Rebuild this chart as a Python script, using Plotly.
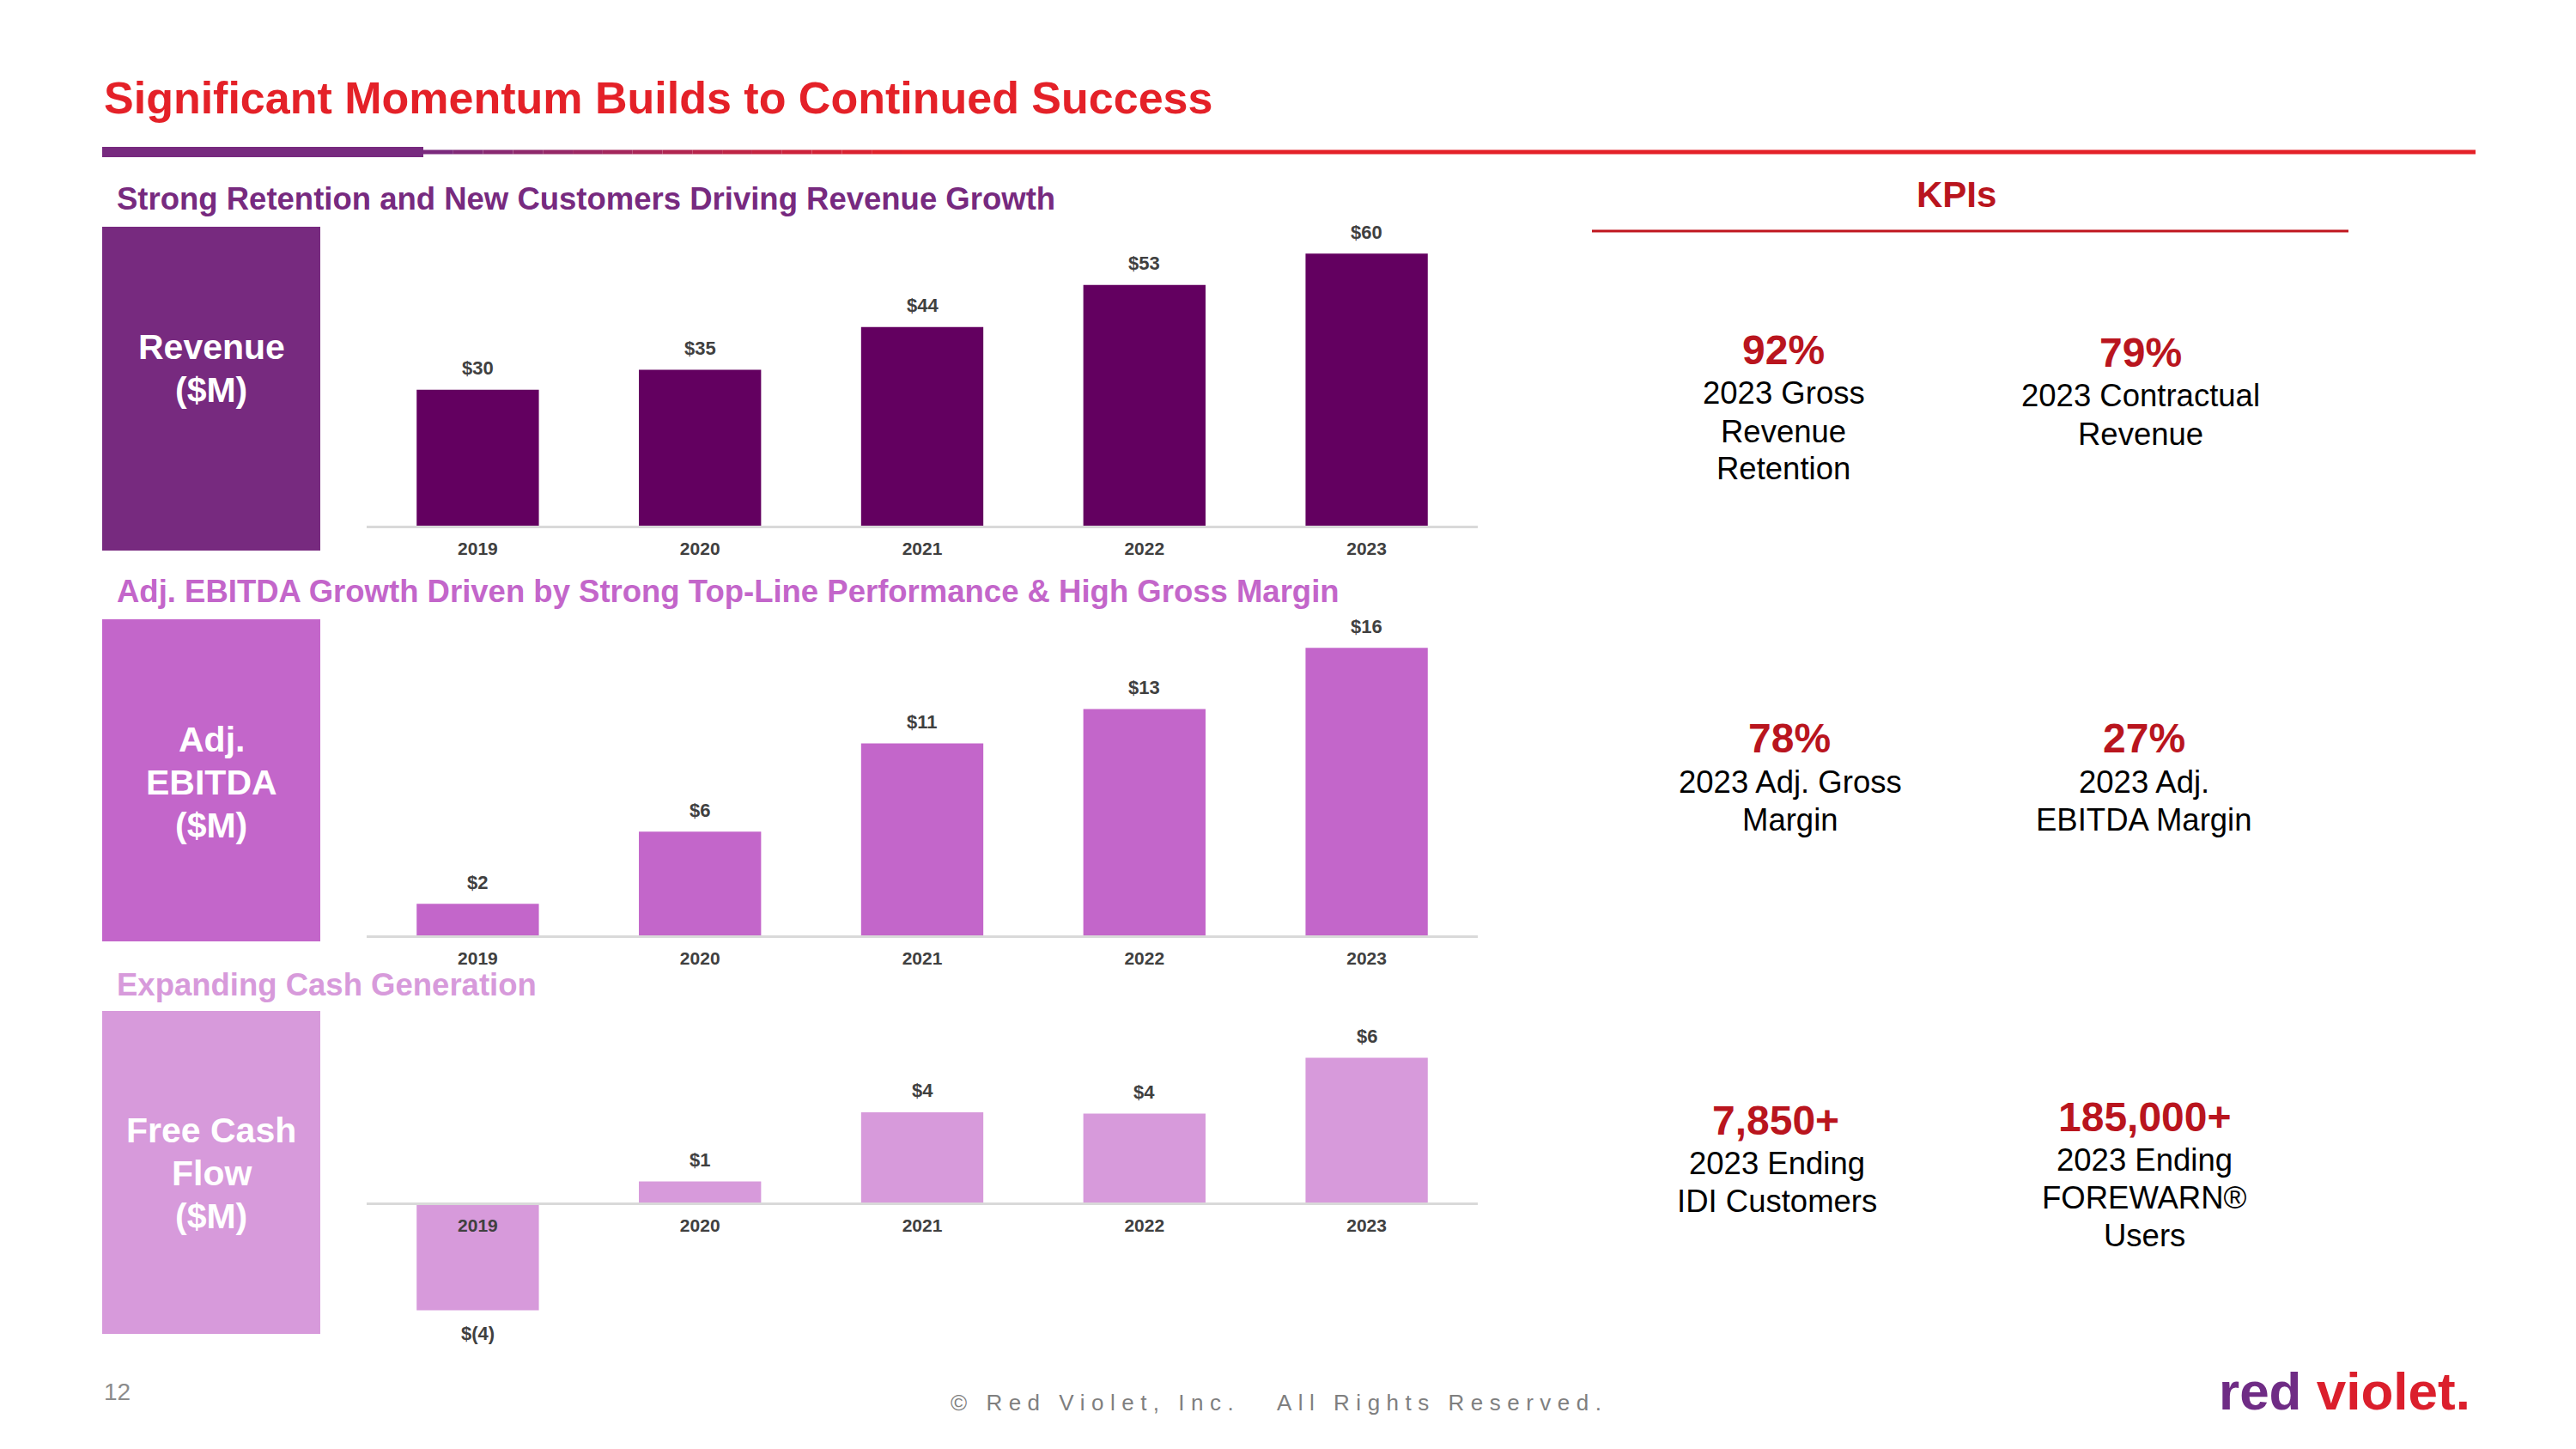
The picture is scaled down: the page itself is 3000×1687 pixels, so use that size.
"""Slide 12: Revenue / Adj. EBITDA / Free Cash Flow bars plus KPI block."""

import plotly.graph_objects as go

W, H = 3000, 1687

# --- data ------------------------------------------------------------------
years = ["2019", "2020", "2021", "2022", "2023"]
revenue = [30.2, 34.6, 44.0, 53.3, 60.2]
adj_ebitda = [1.8, 5.8, 10.7, 12.6, 16.0]
free_cash_flow = [-4.4, 0.9, 3.75, 3.7, 6.0]

kpi_values = ["92%", "79%", "78%", "27%", "7,850+", "185,000+"]
kpi_labels = [
    ["2023 Gross", "Revenue", "Retention"],
    ["2023 Contractual", "Revenue"],
    ["2023 Adj. Gross", "Margin"],
    ["2023 Adj.", "EBITDA Margin"],
    ["2023 Ending", "IDI Customers"],
    ["2023 Ending", "FOREWARN®", "Users"],
]

# --- colours / fonts -------------------------------------------------------
RED = "#E42128"
DARK_RED = "#B9151E"
PURPLE_BOX = "#772A7F"
REV_BAR = "#630060"
EBITDA_COL = "#C366CA"
FCF_COL = "#D79ADB"
AXIS_GREY = "#D9D9D9"
LABEL_GREY = "#404040"
ARIAL = "Liberation Sans, Arial, sans-serif"
NARROW = "Liberation Sans Narrow, Arial Narrow, Liberation Sans, sans-serif"


def px(x):
    return x / W


def py(y):
    return 1 - y / H


X0, X1 = 427, 1721  # pixel extent of the three category axes

# base pixel row, px per $M, top / bottom pixel rows of each panel
panels = [
    dict(vals=revenue, color=REV_BAR, base=613, scale=5.277, top=262, bottom=613),
    dict(vals=adj_ebitda, color=EBITDA_COL, base=1090, scale=20.99, top=715, bottom=1090),
    dict(vals=free_cash_flow, color=FCF_COL, base=1401, scale=28.27, top=1195, bottom=1570),
]

fig = go.Figure()
annotations = []

for i, p in enumerate(panels, start=1):
    sfx = "" if i == 1 else str(i)
    fig.add_trace(go.Bar(
        x=years, y=p["vals"], marker_color=p["color"], marker_line_width=0,
        width=0.55, xaxis=f"x{sfx}", yaxis=f"y{sfx}", showlegend=False,
    ))
    lo = -(p["bottom"] - p["base"]) / p["scale"]
    hi = (p["base"] - p["top"]) / p["scale"]
    fig.update_layout(**{
        f"xaxis{sfx}": dict(
            domain=[px(X0), px(X1)], range=[-0.5, 4.5], type="category",
            anchor="free", position=py(p["base"]),
            showline=True, linecolor=AXIS_GREY, linewidth=3, showgrid=False,
            ticks="", ticklabelstandoff=6,
            tickfont=dict(family=NARROW, size=21, color=LABEL_GREY, weight="bold"),
        ),
        f"yaxis{sfx}": dict(
            domain=[py(p["bottom"]), py(p["top"])], range=[lo, hi],
            visible=False, showgrid=False, zeroline=False,
        ),
    })
    # data labels: category index on x (year strings would read as positions)
    for k, v in enumerate(p["vals"]):
        txt = f"${v:.0f}" if v >= 0 else f"$({abs(v):.0f})"
        annotations.append(dict(
            x=k, y=v, xref=f"x{sfx}", yref=f"y{sfx}", text=f"<b>{txt}</b>",
            showarrow=False, yshift=25 if v >= 0 else -27,
            font=dict(family=NARROW, size=22, color=LABEL_GREY),
        ))

shapes = []

# header rule: thick purple stub, then purple->red fade, then red
shapes.append(dict(type="line", xref="paper", yref="paper", x0=px(119), x1=px(493),
                   y0=py(177), y1=py(177), line=dict(color=PURPLE_BOX, width=12)))
steps = 16
c0, c1 = (0x77, 0x2A, 0x7F), (0xE4, 0x21, 0x28)
for k in range(steps):
    xa = 493 + (1050 - 493) * k / steps
    xb = 493 + (1050 - 493) * (k + 1) / steps
    t = (k + 0.5) / steps
    col = "rgb({},{},{})".format(*[int(a + (b - a) * t) for a, b in zip(c0, c1)])
    shapes.append(dict(type="line", xref="paper", yref="paper", x0=px(xa), x1=px(xb),
                       y0=py(177), y1=py(177), line=dict(color=col, width=5)))
shapes.append(dict(type="line", xref="paper", yref="paper", x0=px(1050), x1=px(2883),
                   y0=py(177), y1=py(177), line=dict(color=RED, width=5)))

# KPI underline
shapes.append(dict(type="line", xref="paper", yref="paper", x0=px(1854), x1=px(2735),
                   y0=py(269), y1=py(269), line=dict(color="#C0161E", width=3)))

# coloured side boxes
boxes = [(264, 641, PURPLE_BOX), (721, 1096, EBITDA_COL), (1177, 1553, FCF_COL)]
for y_top, y_bot, col in boxes:
    shapes.append(dict(type="rect", xref="paper", yref="paper", x0=px(119), x1=px(373),
                       y0=py(y_bot), y1=py(y_top), fillcolor=col, line_width=0, layer="below"))


def note(x, y, text, size, color, bold=False, xanchor="center", family=ARIAL):
    annotations.append(dict(
        x=px(x), y=py(y), xref="paper", yref="paper", showarrow=False,
        text=f"<b>{text}</b>" if bold else text, xanchor=xanchor, yanchor="middle",
        align="center", font=dict(family=family, size=size, color=color),
    ))


def stack(x, y_first, rows, gap, size, color, bold=False):
    for n, row in enumerate(rows):
        note(x, y_first + n * gap, row, size, color, bold)


note(119, 114, "Significant Momentum Builds to Continued Success", 52, RED, True, "left")
note(134, 232, "Strong Retention and New Customers Driving Revenue Growth", 36.5, PURPLE_BOX, True, "left")
note(134, 688, "Adj. EBITDA Growth Driven by Strong Top-Line Performance &amp; High Gross Margin",
     36.5, EBITDA_COL, True, "left")
note(134, 1146, "Expanding Cash Generation", 36.5, FCF_COL, True, "left")

stack(246, 404, ["Revenue", "($M)"], 50, 41, "white", True)
stack(246, 861, ["Adj.", "EBITDA", "($M)"], 50, 41, "white", True)
stack(246, 1316, ["Free Cash", "Flow", "($M)"], 50, 41, "white", True)

note(2278, 227, "KPIs", 42, DARK_RED, True)

kpi_num_pos = [(2077, 407), (2493, 410), (2084, 860), (2497, 860), (2068, 1304), (2498, 1300)]
kpi_lab_pos = [(2077, 458), (2493, 461), (2085, 910), (2497, 910), (2069, 1354), (2497, 1350)]
for val, rows, (nx, ny), (lx, ly) in zip(kpi_values, kpi_labels, kpi_num_pos, kpi_lab_pos):
    note(nx, ny, val, 48, DARK_RED, True)
    stack(lx, ly, rows, 44, 36.5, "black")

# footer
note(119, 1620, "12", 28, "#8C8C8C", False, "left")
note(1490, 1633,
     "<span style='letter-spacing:7.5px'>© Red Violet, Inc.\u00a0\u00a0 All Rights Reserved.</span>",
     26, "#7F7F7F")
note(2879, 1619,
     "<span style='color:#6F2C85'>red</span> <span style='color:#DB1F2C'>violet.</span>",
     62, "#DB1F2C", True, "right")

fig.update_layout(
    template="none",
    width=W, height=H,
    margin=dict(l=0, r=0, t=0, b=0),
    paper_bgcolor="white", plot_bgcolor="rgba(0,0,0,0)",
    shapes=shapes, annotations=annotations,
    showlegend=False,
)

fig.write_html("out.html", config={"displayModeBar": False},
               post_script="document.body.style.margin = '0';")
